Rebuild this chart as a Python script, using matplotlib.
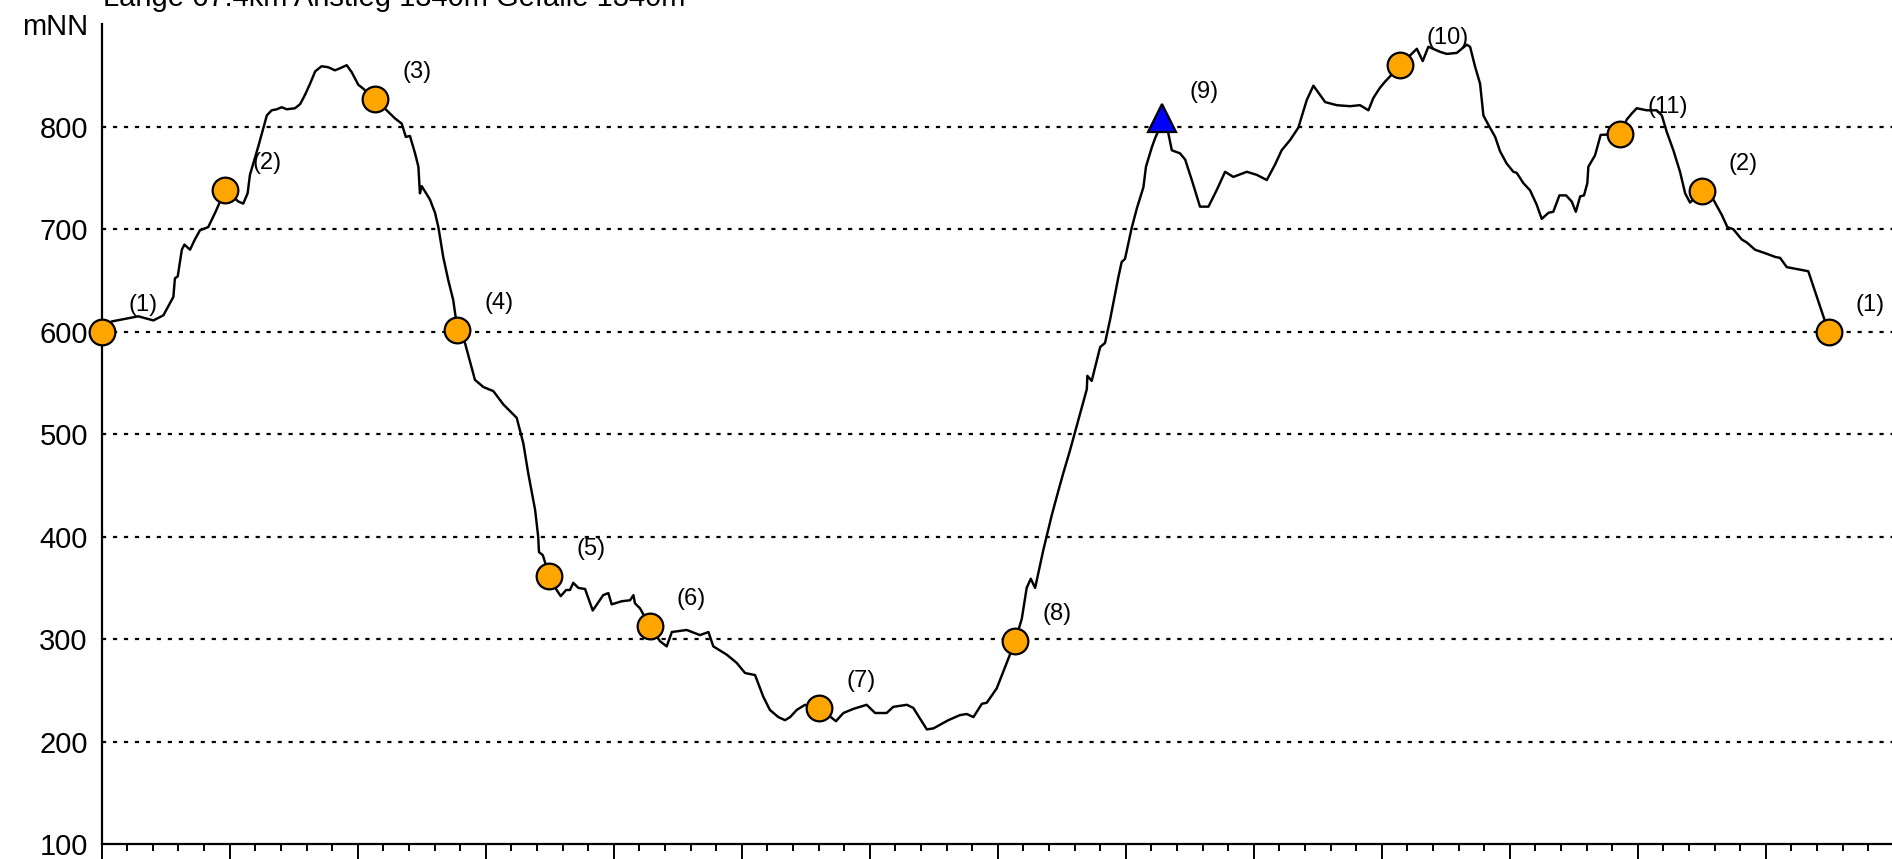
"""
Höhenprofil der Tour: Strecke (km) gegen Höhe (mNN) mit Wegpunkten
"""
import matplotlib
matplotlib.use('Agg')
import matplotlib.pyplot as plt
from matplotlib.ticker import MultipleLocator, NullFormatter

plt.rcParams['font.family'] = ['Liberation Sans', 'DejaVu Sans']
plt.rcParams['lines.scale_dashes'] = False

# ── Daten ─────────────────────────────────────────────────────────────────────
TITLE = 'Länge 67.4km Anstieg 1340m Gefälle 1340m'

dist_km = [
    0.00, 0.39, 1.43, 2.02, 2.41, 2.80, 2.86, 2.97, 3.13, 3.23, 3.45, 3.64, 3.84,
    4.16, 4.43, 4.82, 5.34, 5.53, 5.70, 5.79, 6.12, 6.45, 6.64, 6.84, 7.03, 7.23,
    7.55, 7.75, 7.94, 8.14, 8.34, 8.59, 8.85, 9.11, 9.31, 9.57, 9.77, 10.02, 10.22,
    10.68, 11.13, 11.46, 11.72, 11.88, 12.04, 12.24, 12.37, 12.43, 12.50, 12.82,
    13.02, 13.15, 13.34, 13.54, 13.73, 13.89, 14.19, 14.58, 14.91, 15.30, 15.69,
    16.21, 16.47, 16.66, 16.93, 17.05, 17.08, 17.23, 17.48, 17.77, 17.93, 18.14,
    18.29, 18.42, 18.62, 18.88, 19.18, 19.59, 19.79, 19.92, 20.31, 20.64, 20.77,
    20.83, 21.03, 21.40, 21.81, 22.07, 22.27, 22.85, 23.37, 23.70, 23.89, 24.41,
    24.80, 25.13, 25.52, 25.84, 26.10, 26.43, 26.69, 26.89, 27.15, 27.47, 28.03,
    28.68, 28.97, 29.36, 29.88, 30.21, 30.66, 30.92, 31.45, 31.70, 32.23, 32.49,
    33.07, 33.53, 33.79, 34.05, 34.38, 34.57, 34.96, 35.35, 35.68, 35.94, 36.13,
    36.29, 36.46, 36.78, 37.11, 37.37, 37.56, 37.82, 38.15, 38.48, 38.50, 38.67,
    39.00, 39.19, 39.39, 39.71, 39.84, 39.97, 40.23, 40.43, 40.69, 40.79, 41.02,
    41.15, 41.43, 41.66, 41.80, 42.12, 42.32, 42.58, 42.90, 43.23, 43.55, 43.88,
    44.20, 44.73, 45.12, 45.51, 45.83, 46.09, 46.42, 46.74, 47.07, 47.33, 47.79,
    48.24, 48.76, 49.15, 49.48, 49.67, 49.93, 50.13, 50.32, 50.71, 51.37, 51.60,
    51.82, 52.28, 52.54, 52.93, 53.32, 53.45, 53.64, 53.84, 53.97, 54.16, 54.43,
    54.62, 54.88, 55.14, 55.27, 55.53, 55.79, 56.05, 56.25, 56.51, 56.70, 56.94,
    57.20, 57.42, 57.58, 57.75, 57.90, 58.03, 58.07, 58.33, 58.55, 59.31, 59.57,
    59.77, 59.96, 60.35, 60.74, 60.94, 61.13, 61.39, 61.65, 61.85, 62.04, 62.50,
    62.95, 63.28, 63.50, 63.73, 64.06, 64.26, 64.58, 65.04, 65.36, 65.56, 65.82,
    66.66, 67.45,
]
elev_m = [
    600, 610, 615, 611, 616, 634, 652, 654, 680, 685, 680, 690, 699,
    702, 716, 738, 727, 725, 735, 753, 781, 811, 816, 817, 819, 817,
    818, 822, 831, 842, 854, 859, 858, 855, 857, 860, 853, 841, 837,
    827, 816, 808, 803, 790, 791, 774, 761, 735, 742, 729,
    716, 702, 673, 650, 631, 603, 589, 553, 546, 542, 529,
    516, 491, 462, 426, 400, 385, 382, 362, 348, 342, 348,
    348, 355, 350, 349, 328, 343, 345, 334, 337, 338, 343,
    335, 330, 313, 298, 293, 307, 309, 304, 307, 293, 285,
    277, 267, 265, 244, 231, 224, 221, 224, 231, 236, 233,
    220, 228, 232, 236, 228, 228, 234, 236, 233, 212, 213,
    221, 226, 227, 224, 237, 238, 252, 277, 298, 320, 350,
    359, 350, 387, 421, 445, 462, 484, 514, 544, 557, 552,
    585, 589, 612, 653, 668, 671, 701, 720, 741, 761, 780,
    789, 805, 794, 777, 774, 768, 748, 722, 722, 738, 756,
    751, 756, 753, 748, 763, 777, 787, 799, 826, 840, 824,
    821, 820, 821, 816, 828, 838, 844, 849, 860, 876, 864,
    878, 873, 871, 872, 880, 878, 859, 842, 811, 802, 790,
    776, 764, 756, 755, 745, 738, 724, 710, 716, 717, 733,
    733, 727, 717, 732, 733, 745, 761, 772, 792, 793, 807,
    813, 818, 816, 816, 811, 795, 777, 756, 735, 726, 737,
    729, 714, 702, 700, 690, 687, 680, 676, 673, 672, 663,
    659, 600,
]

# Wegpunkte (Kreise) und Gipfel (Dreieck)
wp_labels = ['(1)', '(2)', '(3)', '(4)', '(5)', '(6)', '(7)', '(8)',
             '(10)', '(11)', '(2)', '(1)']
wp_km     = [0.00, 4.82, 10.68, 13.89, 17.48, 21.40, 28.03, 35.68,
             50.71, 59.31, 62.50, 67.45]
wp_elev   = [600, 738, 827, 602, 362, 313, 233, 298, 860, 793, 737, 600]

peak_label = '(9)'
peak_km    = 41.43
peak_elev  = 808

y_ticks       = [100, 200, 300, 400, 500, 600, 700, 800, 900]
y_tick_labels = ['100', '200', '300', '400', '500', '600', '700', '800', 'mNN']
grid_levels   = [200, 300, 400, 500, 600, 700, 800]
# ─────────────────────────────────────────────────────────────────────────────

fig = plt.figure(figsize=(18.92, 8.59), dpi=100)
ax = fig.add_axes([0.05375, 0.01723, 0.94625, 0.9546])
ax.set_xlim(0, 69.93)
ax.set_ylim(100, 900)

for lvl in grid_levels:
    ax.axhline(lvl, color='black', lw=1.6, dashes=(3.0, 4.9), zorder=1)

ax.plot(dist_km, elev_m, color='black', lw=1.75, zorder=3)

ax.plot(wp_km, wp_elev, linestyle='none', marker='o', ms=18.5,
        mfc='#FFA500', mec='black', mew=1.6, zorder=5, clip_on=False)
ax.plot([peak_km], [peak_elev], linestyle='none', marker='^', ms=20,
        mfc='#0000FF', mec='black', mew=1.6, zorder=5, clip_on=False)

for lab, x, y in zip(wp_labels + [peak_label], wp_km + [peak_km],
                     wp_elev + [peak_elev]):
    ax.annotate(lab, (x, y), xytext=(19.4, 19.4), textcoords='offset points',
                ha='left', va='center', fontsize=17, zorder=6,
                annotation_clip=False)

# Achsen
for side in ['top', 'right']:
    ax.spines[side].set_visible(False)
for side in ['left', 'bottom']:
    ax.spines[side].set_linewidth(1.6)
    ax.spines[side].set_zorder(4)

ax.xaxis.set_major_locator(MultipleLocator(5))
ax.xaxis.set_minor_locator(MultipleLocator(1))
ax.xaxis.set_major_formatter(NullFormatter())
ax.tick_params(axis='x', which='major', direction='out', length=12, width=1.4)
ax.tick_params(axis='x', which='minor', direction='out', length=5.3, width=1.4)

ax.set_yticks(y_ticks)
ax.set_yticklabels(y_tick_labels)
ax.tick_params(axis='y', length=0, pad=10, labelsize=21)

fig.text(0.0543, 0.993, TITLE, fontsize=21, ha='left', va='baseline')

fig.savefig('out.png', dpi=100)
